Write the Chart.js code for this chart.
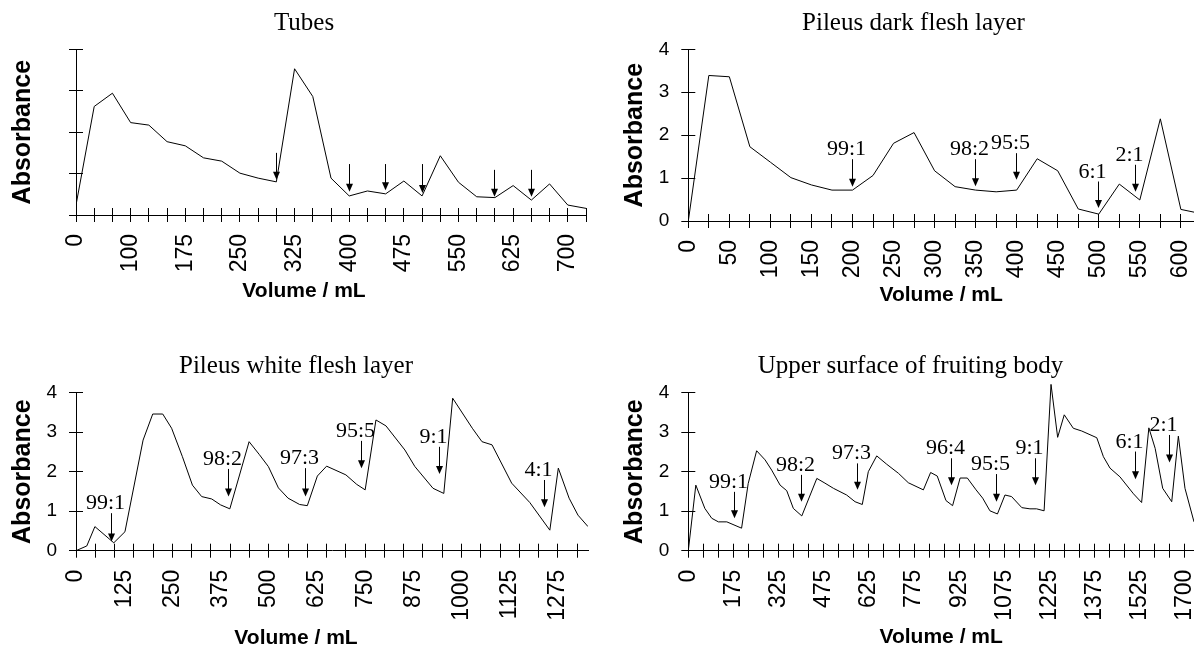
<!DOCTYPE html>
<html>
<head>
<meta charset="utf-8">
<title>Absorbance profiles</title>
<script src="https://cdn.jsdelivr.net/npm/chart.js@4.4.1/dist/chart.umd.min.js"></script>
<style>
  html, body { margin:0; padding:0; background:#fff; overflow:hidden; }
  body { width:1194px; height:649px; position:relative; }
  canvas { position:absolute; }
</style>
</head>
<body>
<canvas id="tubes"></canvas>
<canvas id="dark"></canvas>
<canvas id="white"></canvas>
<canvas id="upper"></canvas>
<script>
// Tubes
const tubesVol = [25,50,75,100,125,150,175,200,225,250,275,300,325,350,375,400,425,450,475,500,525,550,575,600,625,650,675,700,725];
const tubesAbs = [0.24,2.62,2.94,2.23,2.17,1.77,1.67,1.38,1.30,1.01,0.89,0.80,3.53,2.86,0.89,0.46,0.58,0.51,0.82,0.46,1.43,0.79,0.44,0.42,0.71,0.36,0.75,0.24,0.16];
const tubesTickVals = [25,100,175,250,325,400,475,550,625,700];
const tubesTickText = ['0','100','175','250','325','400','475','550','625','700'];
const tubesArrowX = [300,400,450,500,600,650];
const tubesArrowTop = [1.50,1.23,1.23,1.23,1.09,1.09];
const tubesArrowTip = [0.85,0.56,0.60,0.53,0.44,0.44];
const tubesArrowText = ['','','','','',''];

// Pileus dark flesh layer
const darkVol = [0,25,50,75,100,125,150,175,200,225,250,275,300,325,350,375,400,425,450,475,500,525,550,575,600,625];
const darkAbs = [0,3.39,3.36,1.73,1.37,1.01,0.84,0.72,0.72,1.06,1.81,2.06,1.17,0.80,0.72,0.68,0.72,1.45,1.17,0.28,0.16,0.86,0.49,2.38,0.27,0.17];
const darkTickVals = [0,50,100,150,200,250,300,350,400,450,500,550,600];
const darkTickText = ['0','50','100','150','200','250','300','350','400','450','500','550','600'];
const darkArrowX = [200,350,400,500,545];
const darkArrowTop = [1.44,1.44,1.58,0.92,1.31];
const darkArrowTip = [0.80,0.81,0.96,0.30,0.68];
const darkArrowText = ['99:1','98:2','95:5','6:1','2:1'];

// Pileus white flesh layer
const whiteVol = [0,28,49,98,127,174,199,225,248,276,302,326,352,375,399,449,475,499,525,550,580,600,626,650,700,728,750,778,804,853,879,926,954,977,1028,1053,1079,1130,1177,1229,1251,1279,1302,1328];
const whiteAbs = [0,0.12,0.61,0.20,0.48,2.80,3.46,3.46,3.10,2.38,1.66,1.37,1.31,1.16,1.06,2.76,2.44,2.13,1.59,1.33,1.17,1.14,1.89,2.14,1.92,1.68,1.54,3.31,3.16,2.55,2.13,1.58,1.45,3.86,3.10,2.76,2.68,1.71,1.22,0.52,2.09,1.33,0.90,0.61];
const whiteTickVals = [0,125,250,375,500,625,750,875,1000,1125,1250];
const whiteTickText = ['0','125','250','375','500','625','750','875','1000','1125','1275'];
const whiteArrowX = [92,395,596,741,942,1216];
const whiteArrowTop = [0.95,2.07,2.09,2.78,2.63,1.79];
const whiteArrowTip = [0.23,1.37,1.37,2.09,1.94,1.10];
const whiteArrowText = ['99:1','98:2','97:3','95:5','9:1','4:1'];

// Upper surface of fruiting body
const upperVol = [25,50,80,103,125,153,202,224,252,280,302,330,352,374,402,452,479,507,551,579,603,623,651,684,723,756,806,830,852,881,903,928,952,981,1003,1027,1052,1077,1099,1133,1160,1182,1207,1230,1252,1274,1304,1332,1382,1404,1426,1459,1504,1531,1555,1576,1601,1631,1653,1675,1705];
const upperAbs = [0,1.66,1.07,0.82,0.73,0.73,0.57,1.70,2.53,2.30,2.04,1.66,1.52,1.07,0.88,1.83,1.71,1.58,1.41,1.24,1.17,2.00,2.40,2.19,1.96,1.72,1.54,1.98,1.89,1.27,1.14,1.84,1.84,1.54,1.33,1.01,0.93,1.41,1.37,1.09,1.06,1.06,1.01,4.21,2.87,3.44,3.10,3.03,2.86,2.38,2.09,1.87,1.44,1.22,3.11,2.59,1.58,1.24,2.90,1.58,0.73];
const upperTickVals = [25,175,325,475,625,775,925,1075,1225,1375,1525,1675];
const upperTickText = ['0','175','325','475','625','775','925','1075','1225','1375','1525','1700'];
const upperArrowX = [180,402,588,900,1049,1178,1511,1622];
const upperArrowTop = [1.49,1.92,2.21,2.34,1.94,2.34,2.51,2.93];
const upperArrowTip = [0.82,1.24,1.54,1.66,1.24,1.66,1.81,2.23];
const upperArrowText = ['99:1','98:2','97:3','96:4','95:5','9:1','6:1','2:1'];

const yTicks = [0,1,2,3,4];

const SERIF = "'Liberation Serif', 'Times New Roman', serif";
const SANS = "'Liberation Sans', Arial, sans-serif";
const NARROW = "'Liberation Sans Narrow', 'Liberation Sans', Arial, sans-serif";

function range(a, b, step){ const r=[]; for(let v=a; v<=b; v+=step) r.push(v); return r; }

// arrows + ratio labels
function arrowPlugin(xs, tops, tips, texts){
    return {
        id:'arrows',
        afterDatasetsDraw(chart){
            const {ctx, scales:{x, y}} = chart;
            ctx.save();
            ctx.strokeStyle='#000'; ctx.fillStyle='#000'; ctx.lineWidth=1;
            ctx.font="22px "+SERIF; ctx.textAlign='center'; ctx.textBaseline='alphabetic';
            xs.forEach((v,i)=>{
                const px=Math.round(x.getPixelForValue(v)-0.5)+0.5;
                const top=y.getPixelForValue(tops[i]);
                const tip=y.getPixelForValue(tips[i]);
                ctx.beginPath(); ctx.moveTo(px, top); ctx.lineTo(px, tip-7); ctx.stroke();
                ctx.beginPath(); ctx.moveTo(px-3.5, tip-8); ctx.lineTo(px+3.5, tip-8); ctx.lineTo(px, tip); ctx.closePath(); ctx.fill();
                if(texts[i]) ctx.fillText(texts[i], px-6, top-4);
            });
            ctx.restore();
        }
    };
}

// tick marks that cross the axes (inner half)
function innerTicks(marks){
    return {
        id:'innerTicks',
        afterDraw(chart){
            const {ctx, chartArea:a, scales:{x, y}} = chart;
            ctx.save();
            ctx.strokeStyle='#000'; ctx.lineWidth=1;
            ctx.beginPath();
            marks.forEach(v=>{
                const px=Math.round(x.getPixelForValue(v)-0.5)+0.5;
                ctx.moveTo(px, a.bottom); ctx.lineTo(px, a.bottom-7);
            });
            y.ticks.forEach(t=>{
                const py=Math.round(y.getPixelForValue(t.value)-0.5)+0.5;
                ctx.moveTo(a.left, py); ctx.lineTo(a.left+7, py);
            });
            ctx.stroke();
            ctx.restore();
        }
    };
}

function makePanel(id, s){
    const cv=document.getElementById(id);
    cv.width=s.box.width; cv.height=s.box.height;
    cv.style.left=s.box.left+'px'; cv.style.top=s.box.top+'px';
    const tLH=30, sLH=21, yLH=25, xh=70;
    const tPadTop=s.titleY-s.box.top-tLH/2;
    const tPadBot=s.plot.top-s.box.top-tLH-tPadTop;
    const subTop=s.plot.bottom+xh;
    const sPadTop=s.xTitleY-subTop-sLH/2;
    const sPadBot=s.box.top+s.box.height-subTop-sLH-sPadTop;
    const labelMap={}; s.tickVals.forEach((v,i)=>{ labelMap[v]=s.tickText[i]; });
    const tickVals=[...new Set(s.marks.concat(s.tickVals))].sort((a,b)=>a-b);

    return new Chart(cv, {
        type:'line',
        data:{ datasets:[{
            data:s.vol.map((v,i)=>({x:v, y:s.abs[i]})),
            borderColor:'#000', borderWidth:1, pointRadius:0, tension:0,
            clip:{left:0, top:40, right:0, bottom:0}
        }]},
        options:{
            responsive:false, animation:false, devicePixelRatio:1,
            layout:{ padding:0, autoPadding:false },
            plugins:{
                legend:{display:false}, tooltip:{enabled:false},
                title:{ display:true, text:s.title, color:'#000',
                    font:{family:SERIF, size:25, weight:'normal', lineHeight:tLH/25},
                    padding:{top:tPadTop, bottom:tPadBot} },
                subtitle:{ display:true, position:'bottom', fullSize:s.xTitleFull, text:'Volume / mL', color:'#000',
                    font:{family:SANS, size:21, weight:'bold', lineHeight:1},
                    padding:{top:sPadTop, bottom:sPadBot} }
            },
            scales:{
                x:{
                    type:'linear', min:s.xMin, max:s.xMax,
                    afterBuildTicks:sc=>{ sc.ticks=tickVals.map(v=>({value:v})); },
                    afterFit:sc=>{ sc.height=xh; sc.paddingLeft=0; sc.paddingRight=s.box.left+s.box.width-s.plot.right; },
                    grid:{ drawOnChartArea:false, tickLength:7, lineWidth:1,
                        color:c=>s.marks.includes(c.tick && c.tick.value)?'#000':'rgba(0,0,0,0)' },
                    border:{ display:true, color:'#000', width:1 },
                    ticks:{ autoSkip:false, minRotation:90, maxRotation:90, padding:12, color:'#000',
                        font:{family:NARROW, size:23},
                        callback:v=>(labelMap[v]!==undefined?labelMap[v]:'') }
                },
                y:{
                    type:'linear', min:0, max:4,
                    afterBuildTicks:sc=>{ sc.ticks=yTicks.map(v=>({value:v})); },
                    afterFit:sc=>{ sc.width=s.plot.left-s.box.left; },
                    grid:{ drawOnChartArea:false, tickLength:7, color:'#000', lineWidth:1 },
                    border:{ display:true, color:'#000', width:1 },
                    ticks:{ padding:12, color:'#000', font:{family:SANS, size:19},
                        callback:v=>(s.yLabels?String(v):'') },
                    title:{ display:true, text:'Absorbance', color:'#000',
                        font:{family:SANS, size:25, weight:'bold', lineHeight:1},
                        padding:{top:s.yTitleX-s.box.left-yLH/2, bottom:0} }
                }
            }
        },
        plugins:[ arrowPlugin(s.arrowX, s.arrowTop, s.arrowTip, s.arrowText), innerTicks(s.marks) ]
    });
}

makePanel('tubes', {
    title:'Tubes', vol:tubesVol, abs:tubesAbs, xMin:25, xMax:725,
    marks:range(25,725,25), tickVals:tubesTickVals, tickText:tubesTickText, yLabels:false,
    arrowX:tubesArrowX, arrowTop:tubesArrowTop, arrowTip:tubesArrowTip, arrowText:tubesArrowText,
    box:{left:0, top:0, width:608, height:308}, plot:{left:76, top:49.3, right:586, bottom:215},
    titleY:23.6, xTitleY:291.5, yTitleX:23.3, xTitleFull:true
});

makePanel('dark', {
    title:'Pileus dark flesh layer', vol:darkVol, abs:darkAbs, xMin:0, xMax:616,
    marks:range(0,600,25), tickVals:darkTickVals, tickText:darkTickText, yLabels:true,
    arrowX:darkArrowX, arrowTop:darkArrowTop, arrowTip:darkArrowTip, arrowText:darkArrowText,
    box:{left:610, top:0, width:607, height:308}, plot:{left:688.3, top:49.3, right:1194, bottom:221},
    titleY:23.6, xTitleY:295, yTitleX:635, xTitleFull:false
});

makePanel('white', {
    title:'Pileus white flesh layer', vol:whiteVol, abs:whiteAbs, xMin:0, xMax:1328,
    marks:range(0,1300,50), tickVals:whiteTickVals, tickText:whiteTickText, yLabels:true,
    arrowX:whiteArrowX, arrowTop:whiteArrowTop, arrowTip:whiteArrowTip, arrowText:whiteArrowText,
    box:{left:0, top:330, width:592, height:330}, plot:{left:76, top:392.7, right:588, bottom:550.7},
    titleY:366.6, xTitleY:638, yTitleX:23, xTitleFull:true
});

makePanel('upper', {
    title:'Upper surface of fruiting body', vol:upperVol, abs:upperAbs, xMin:25, xMax:1705,
    marks:range(25,1675,50), tickVals:upperTickVals, tickText:upperTickText, yLabels:true,
    arrowX:upperArrowX, arrowTop:upperArrowTop, arrowTip:upperArrowTip, arrowText:upperArrowText,
    box:{left:610, top:330, width:601, height:330}, plot:{left:688.3, top:392.7, right:1194, bottom:550.7},
    titleY:366.6, xTitleY:637.5, yTitleX:635, xTitleFull:false
});
</script>
</body>
</html>
